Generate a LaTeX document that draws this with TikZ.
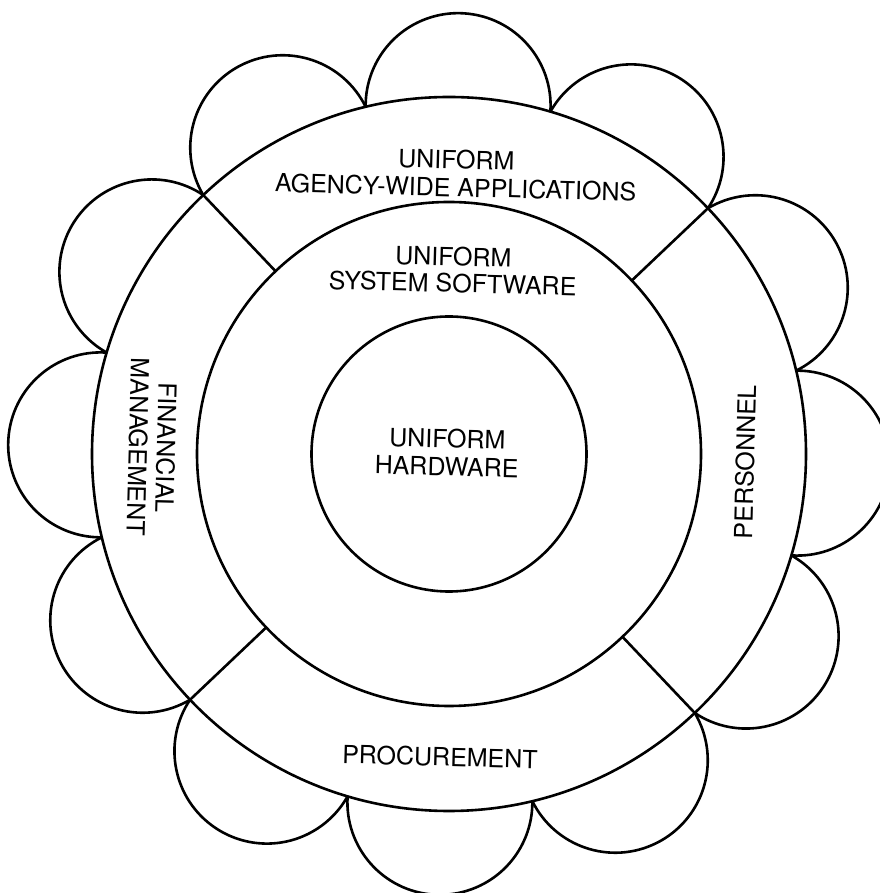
\documentclass[tikz,border=0pt]{standalone}
\usepackage{fontspec}
\setmainfont{TeX Gyre Heros}
\begin{document}
\begin{tikzpicture}[x=1pt,y=1pt,line width=2.6pt,line join=round,
  lbl/.style={font=\fontsize{25}{28}\selectfont,align=center,inner sep=0pt}]
\path[fill=white,use as bounding box] (0,0) rectangle (879,893);
\coordinate (C) at (449,439);
% concentric rings
\draw (C) circle[radius=137.5];
\draw (C) circle[radius=252];
\draw (C) circle[radius=357];
% separating spokes in the outer ring
\foreach \a in {43.5,133.5,223.5,313.5}
  \draw ([shift={(\a:252)}]C) -- ([shift={(\a:357)}]C);
% twelve scallops
\foreach \k in {0,...,11}{
  \pgfmathsetmacro\m{28.5+30*\k}
  \pgfmathsetmacro\s{\m-15}
  \pgfmathsetmacro\sa{\m-92.27}
  \pgfmathsetmacro\ea{\m+92.27}
  \draw ([shift={(\s:357)}]C) arc[start angle=\sa,end angle=\ea,radius=92.47];
}
% labels
\node[lbl,rotate=-1.5] (apps) at (456,719.5) {UNIFORM\\AGENCY-WIDE APPLICATIONS};
\node[lbl,rotate=-1.5,font=\fontsize{25}{26.5}\selectfont] (sw) at (453,623) {UNIFORM\\SYSTEM SOFTWARE};
\node[lbl,rotate=-1.5] (hw) at (447,440.5) {UNIFORM\\HARDWARE};
\node[lbl,rotate=-1.5] (proc) at (440,136) {PROCUREMENT};
\node[lbl,rotate=-91.5] (fin) at (152,445.5) {FINANCIAL\\MANAGEMENT};
\node[lbl,rotate=88.5] (pers) at (745,431) {PERSONNEL};
\end{tikzpicture}
\end{document}
